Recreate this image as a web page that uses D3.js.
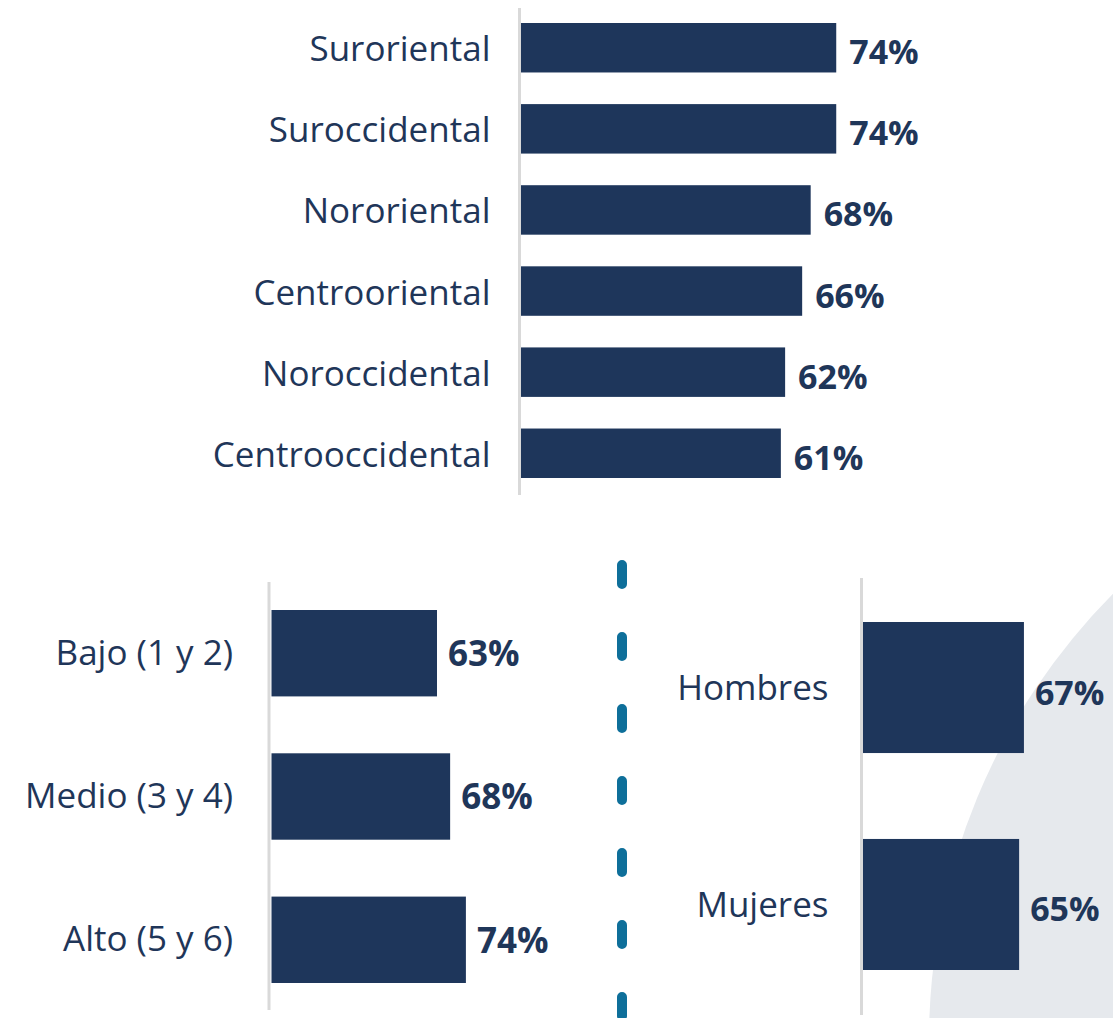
<!DOCTYPE html>
<html>
<head>
<meta charset="utf-8">
<script src="https://cdn.jsdelivr.net/npm/d3@7/dist/d3.min.js"></script>
<style>
  html, body { margin: 0; padding: 0; background: #ffffff; }
  svg { display: block; }
  .cat text { font-family: "Open Sans", sans-serif; font-size: 35px; fill: #1f3659; }
  .val { font-family: "Open Sans", sans-serif; font-weight: 700; fill: #1f3659; }
</style>
</head>
<body>
<svg id="chart" width="1113" height="1018"></svg>
<script>
// ---- data ----
const regionCategories = ["Suroriental", "Suroccidental", "Nororiental", "Centrooriental", "Noroccidental", "Centrooccidental"];
const regionValues = [74, 74, 68, 66, 62, 61];

const strataCategories = ["Bajo (1 y 2)", "Medio (3 y 4)", "Alto (5 y 6)"];
const strataValues = [63, 68, 74];

const sexCategories = ["Hombres", "Mujeres"];
const sexValues = [67, 65];

// ---- drawing ----
const svg = d3.select("#chart");
const BAR = "#1e365b";
const AXIS = "#d9d9d9";

// background circle
svg.append("circle")
  .attr("cx", 1562).attr("cy", 1040).attr("r", 633)
  .attr("fill", "#e6e9ed");

function panel(cfg) {
  const data = cfg.cats.map((c, i) => ({ c, v: cfg.vals[i] }));
  const y = d3.scaleBand().domain(cfg.cats).range(cfg.yRange).paddingInner(cfg.pad).paddingOuter(0);
  const x = d3.scaleLinear().domain([0, 100]).range([cfg.x0, cfg.x0 + cfg.pxPer100]);
  const g = svg.append("g");

  // axis line
  g.append("line")
    .attr("x1", cfg.axisX).attr("x2", cfg.axisX)
    .attr("y1", cfg.lineY[0]).attr("y2", cfg.lineY[1])
    .attr("stroke", AXIS).attr("stroke-width", 3);

  // category labels via axis
  const ax = g.append("g").attr("class", "cat")
    .attr("transform", `translate(${cfg.axisX},0)`)
    .call(d3.axisLeft(y).tickSize(0).tickPadding(cfg.labelPad));
  ax.select(".domain").remove();
  ax.selectAll("text").attr("dy", cfg.catDy).attr("fill", "#1f3659");

  g.selectAll("rect.bar").data(data).join("rect")
    .attr("class", "bar")
    .attr("x", x(0))
    .attr("y", d => y(d.c))
    .attr("width", d => x(d.v) - x(0))
    .attr("height", y.bandwidth())
    .attr("fill", BAR);

  g.selectAll("text.val").data(data).join("text")
    .attr("class", "val")
    .attr("font-size", cfg.valSize)
    .attr("x", d => x(d.v) + cfg.valGap)
    .attr("y", d => y(d.c) + y.bandwidth() / 2)
    .attr("dy", cfg.valDy)
    .text(d => Math.round(d.v) + "%");
}

panel({ cats: regionCategories, vals: regionValues, yRange: [23, 478], pad: 0.39,
        x0: 521, pxPer100: 426, axisX: 519.5, lineY: [8, 495], labelPad: 29,
        catDy: "0.386em", valDy: "0.485em", valSize: 34, valGap: 13 });

panel({ cats: strataCategories, vals: strataValues, yRange: [610, 983], pad: 0.397,
        x0: 271.5, pxPer100: 262.7, axisX: 269, lineY: [582, 1010], labelPad: 36,
        catDy: "0.33em", valDy: "0.37em", valSize: 35, valGap: 11 });

panel({ cats: sexCategories, vals: sexValues, yRange: [622, 970], pad: 0.396,
        x0: 863, pxPer100: 240.2, axisX: 861.5, lineY: [578, 1015], labelPad: 33,
        catDy: "0.37em", valDy: "0.5em", valSize: 34, valGap: 11 });

// dashed divider
svg.append("line")
  .attr("x1", 622).attr("x2", 622)
  .attr("y1", 565).attr("y2", 1030)
  .attr("stroke", "#0e6f9a").attr("stroke-width", 10)
  .attr("stroke-linecap", "round")
  .attr("stroke-dasharray", "19,53");
</script>
</body>
</html>
